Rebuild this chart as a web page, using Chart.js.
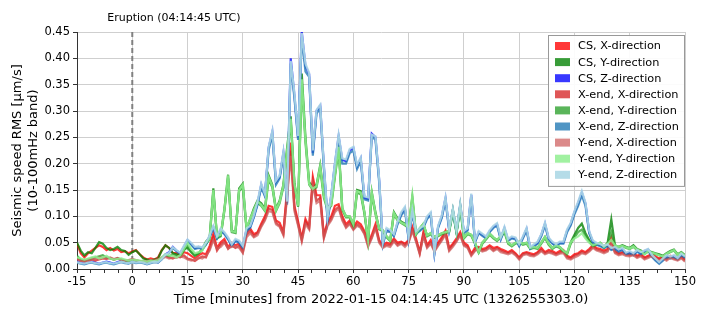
<!DOCTYPE html>
<html>
<head>
<meta charset="utf-8">
<script src="https://cdn.jsdelivr.net/npm/chart.js"></script>
<style>
  html, body { margin: 0; padding: 0; background: #fff; }
  #wrap { width: 708px; height: 315px; }
</style>
</head>
<body>
<div id="wrap"><canvas id="seisChart" width="708" height="315"></canvas></div>
<script>
// --- data (one value per minute, -15 .. 150 min after eruption) ---
const minutes = Array.from({ length: 166 }, (_, i) => i - 15);
const xTicks = [-15, 0, 15, 30, 45, 60, 75, 90, 105, 120, 135, 150];
const yTicks = [0, 0.05, 0.1, 0.15, 0.2, 0.25, 0.3, 0.35, 0.4, 0.45];
const eruptionLabel = 'Eruption (04:14:45 UTC)';

const csX = [0.048,0.030,0.022,0.030,0.035,0.040,0.045,0.042,0.036,0.040,0.035,0.038,0.032,0.034,0.030,0.033,
  0.036,0.028,0.022,0.018,0.020,0.018,0.022,0.036,0.045,0.040,0.030,0.030,0.026,0.032,0.030,
  0.025,0.020,0.026,0.030,0.028,0.044,0.067,0.040,0.051,0.057,0.042,0.050,0.045,0.048,0.036,
  0.070,0.077,0.066,0.070,0.086,0.100,0.120,0.118,0.092,0.088,0.070,0.150,0.240,0.120,0.090,
  0.058,0.095,0.080,0.175,0.140,0.140,0.064,0.090,0.100,0.120,0.123,0.100,0.085,0.092,0.080,
  0.090,0.085,0.072,0.048,0.065,0.085,0.055,0.045,0.050,0.048,0.058,0.050,0.052,0.048,0.055,
  0.080,0.058,0.032,0.070,0.045,0.055,0.038,0.050,0.060,0.073,0.040,0.048,0.058,0.070,0.050,
  0.045,0.029,0.040,0.042,0.038,0.040,0.045,0.040,0.042,0.038,0.035,0.032,0.036,0.030,0.022,
  0.030,0.032,0.030,0.028,0.032,0.040,0.032,0.036,0.034,0.030,0.034,0.036,0.025,0.022,0.028,
  0.030,0.035,0.032,0.038,0.045,0.040,0.038,0.035,0.038,0.060,0.035,0.030,0.032,0.030,0.028,
  0.030,0.025,0.028,0.022,0.025,0.028,0.024,0.020,0.024,0.020,0.025,0.022,0.020,0.024,0.018];
const csY = [0.050,0.035,0.026,0.032,0.030,0.040,0.051,0.048,0.040,0.036,0.038,0.042,0.036,0.034,0.027,0.032,
  0.035,0.028,0.020,0.018,0.016,0.018,0.020,0.035,0.045,0.040,0.030,0.028,0.026,0.038,0.040,
  0.032,0.025,0.030,0.038,0.052,0.060,0.153,0.060,0.064,0.114,0.179,0.073,0.070,0.153,0.162,
  0.077,0.095,0.115,0.130,0.125,0.114,0.178,0.160,0.114,0.130,0.160,0.229,0.290,0.164,0.120,
  0.371,0.250,0.165,0.155,0.160,0.197,0.140,0.115,0.125,0.180,0.235,0.115,0.100,0.100,0.085,
  0.150,0.148,0.108,0.055,0.146,0.108,0.077,0.074,0.062,0.055,0.108,0.096,0.090,0.086,0.080,
  0.137,0.067,0.077,0.086,0.064,0.068,0.061,0.064,0.068,0.070,0.072,0.112,0.070,0.120,0.060,
  0.068,0.065,0.050,0.032,0.050,0.058,0.067,0.060,0.055,0.062,0.073,0.050,0.045,0.050,0.052,
  0.048,0.050,0.040,0.042,0.040,0.050,0.061,0.048,0.040,0.045,0.042,0.035,0.030,0.051,0.065,
  0.078,0.086,0.068,0.055,0.045,0.048,0.050,0.042,0.050,0.094,0.045,0.042,0.045,0.042,0.040,
  0.045,0.038,0.035,0.030,0.035,0.032,0.030,0.028,0.025,0.030,0.034,0.037,0.028,0.032,0.026];
const csZ = [0.015,0.012,0.010,0.012,0.014,0.012,0.010,0.012,0.014,0.012,0.010,0.013,0.015,0.012,0.011,0.015,
  0.012,0.014,0.012,0.010,0.012,0.015,0.013,0.020,0.028,0.032,0.042,0.035,0.030,0.042,0.055,
  0.048,0.040,0.042,0.040,0.048,0.062,0.080,0.060,0.075,0.068,0.058,0.045,0.055,0.052,0.042,
  0.075,0.080,0.100,0.125,0.160,0.140,0.230,0.260,0.165,0.175,0.220,0.125,0.400,0.330,0.250,
  0.450,0.385,0.370,0.220,0.300,0.310,0.195,0.095,0.140,0.200,0.252,0.207,0.205,0.225,0.230,
  0.195,0.210,0.135,0.133,0.257,0.250,0.170,0.048,0.075,0.072,0.064,0.088,0.105,0.115,0.058,
  0.110,0.070,0.075,0.080,0.098,0.105,0.030,0.080,0.100,0.134,0.075,0.112,0.072,0.122,0.070,
  0.075,0.141,0.052,0.070,0.065,0.060,0.072,0.080,0.085,0.058,0.078,0.055,0.060,0.058,0.045,
  0.060,0.076,0.040,0.045,0.050,0.065,0.086,0.058,0.050,0.045,0.050,0.050,0.073,0.086,0.108,
  0.125,0.145,0.124,0.070,0.052,0.048,0.045,0.042,0.045,0.038,0.040,0.035,0.038,0.030,0.032,
  0.028,0.035,0.030,0.034,0.037,0.025,0.018,0.012,0.018,0.025,0.022,0.025,0.020,0.028,0.023];

const xendX = [0.020,0.016,0.014,0.015,0.018,0.016,0.018,0.020,0.019,0.021,0.018,0.020,0.017,0.015,0.016,0.018,
  0.016,0.014,0.015,0.013,0.016,0.015,0.018,0.022,0.025,0.022,0.020,0.024,0.022,0.026,0.020,
  0.018,0.015,0.020,0.024,0.022,0.038,0.060,0.035,0.046,0.052,0.038,0.045,0.040,0.044,0.032,
  0.065,0.072,0.062,0.068,0.082,0.095,0.115,0.112,0.088,0.082,0.066,0.140,0.225,0.115,0.085,
  0.055,0.090,0.078,0.165,0.130,0.135,0.060,0.085,0.095,0.112,0.118,0.095,0.080,0.088,0.076,
  0.085,0.080,0.068,0.045,0.060,0.080,0.052,0.042,0.046,0.045,0.054,0.046,0.050,0.045,0.052,
  0.075,0.054,0.030,0.065,0.042,0.050,0.035,0.046,0.056,0.068,0.036,0.045,0.054,0.066,0.046,
  0.042,0.027,0.036,0.040,0.035,0.037,0.042,0.036,0.040,0.035,0.032,0.030,0.033,0.028,0.020,
  0.028,0.030,0.027,0.026,0.030,0.036,0.030,0.033,0.031,0.028,0.031,0.033,0.022,0.020,0.025,
  0.028,0.032,0.030,0.035,0.042,0.037,0.035,0.032,0.035,0.052,0.032,0.028,0.030,0.027,0.026,
  0.028,0.023,0.026,0.020,0.023,0.026,0.022,0.018,0.022,0.018,0.023,0.020,0.018,0.022,0.016];
const xendY = [0.025,0.018,0.016,0.018,0.020,0.022,0.024,0.026,0.022,0.020,0.018,0.020,0.018,0.016,0.015,0.017,
  0.016,0.015,0.014,0.013,0.015,0.014,0.016,0.020,0.026,0.024,0.028,0.025,0.024,0.035,0.045,
  0.035,0.028,0.030,0.036,0.048,0.056,0.148,0.058,0.062,0.110,0.172,0.070,0.068,0.148,0.155,
  0.075,0.092,0.110,0.125,0.120,0.110,0.170,0.155,0.110,0.125,0.155,0.220,0.280,0.160,0.118,
  0.355,0.240,0.160,0.150,0.155,0.190,0.135,0.112,0.120,0.175,0.228,0.112,0.098,0.098,0.082,
  0.145,0.142,0.105,0.053,0.140,0.104,0.075,0.072,0.060,0.053,0.104,0.092,0.087,0.083,0.078,
  0.132,0.065,0.075,0.083,0.062,0.066,0.059,0.062,0.066,0.068,0.070,0.108,0.068,0.116,0.058,
  0.066,0.063,0.048,0.031,0.048,0.056,0.065,0.058,0.053,0.060,0.070,0.048,0.043,0.048,0.050,
  0.046,0.048,0.038,0.040,0.038,0.048,0.059,0.046,0.038,0.043,0.040,0.033,0.028,0.048,0.060,
  0.070,0.075,0.062,0.052,0.043,0.046,0.048,0.040,0.047,0.070,0.043,0.040,0.043,0.040,0.038,
  0.042,0.036,0.033,0.028,0.033,0.030,0.028,0.026,0.023,0.028,0.032,0.035,0.026,0.030,0.024];
const xendZ = [0.012,0.010,0.009,0.011,0.012,0.010,0.009,0.011,0.012,0.010,0.009,0.011,0.013,0.011,0.010,0.013,
  0.011,0.012,0.011,0.009,0.011,0.013,0.012,0.018,0.026,0.030,0.040,0.034,0.029,0.040,0.052,
  0.046,0.038,0.040,0.038,0.046,0.060,0.078,0.058,0.072,0.066,0.056,0.044,0.053,0.050,0.040,
  0.072,0.078,0.098,0.122,0.155,0.138,0.225,0.255,0.160,0.172,0.215,0.122,0.390,0.325,0.245,
  0.440,0.375,0.365,0.215,0.295,0.305,0.190,0.092,0.136,0.195,0.248,0.200,0.200,0.220,0.225,
  0.190,0.205,0.132,0.130,0.252,0.245,0.165,0.046,0.072,0.070,0.062,0.085,0.102,0.112,0.056,
  0.106,0.068,0.072,0.078,0.095,0.102,0.029,0.078,0.097,0.130,0.073,0.108,0.070,0.118,0.068,
  0.073,0.137,0.050,0.068,0.063,0.058,0.070,0.078,0.082,0.056,0.075,0.053,0.058,0.056,0.043,
  0.058,0.073,0.038,0.043,0.048,0.062,0.083,0.056,0.048,0.043,0.048,0.048,0.070,0.083,0.104,
  0.120,0.140,0.120,0.068,0.050,0.046,0.043,0.040,0.043,0.036,0.038,0.033,0.036,0.028,0.030,
  0.026,0.033,0.028,0.032,0.035,0.023,0.016,0.010,0.016,0.023,0.020,0.023,0.018,0.026,0.021];

const yendX = [0.018,0.015,0.016,0.018,0.020,0.019,0.022,0.021,0.020,0.022,0.019,0.021,0.018,0.016,0.017,0.019,
  0.017,0.015,0.014,0.015,0.017,0.016,0.019,0.020,0.023,0.020,0.022,0.021,0.024,0.022,0.018,
  0.016,0.018,0.022,0.020,0.025,0.035,0.055,0.038,0.042,0.050,0.040,0.042,0.043,0.040,0.030,
  0.060,0.068,0.060,0.064,0.080,0.092,0.110,0.108,0.085,0.080,0.064,0.135,0.215,0.110,0.082,
  0.052,0.085,0.075,0.160,0.125,0.130,0.058,0.082,0.092,0.108,0.115,0.092,0.078,0.085,0.074,
  0.082,0.078,0.066,0.042,0.058,0.078,0.050,0.040,0.044,0.042,0.052,0.044,0.048,0.042,0.050,
  0.072,0.052,0.028,0.062,0.040,0.048,0.033,0.044,0.054,0.065,0.034,0.042,0.052,0.064,0.044,
  0.040,0.025,0.034,0.038,0.033,0.035,0.040,0.034,0.038,0.032,0.030,0.028,0.031,0.026,0.018,
  0.026,0.028,0.025,0.024,0.028,0.034,0.028,0.031,0.029,0.026,0.029,0.030,0.020,0.018,0.022,
  0.025,0.030,0.028,0.033,0.040,0.035,0.033,0.030,0.033,0.048,0.030,0.026,0.028,0.025,0.024,
  0.026,0.021,0.024,0.018,0.021,0.024,0.020,0.016,0.020,0.016,0.021,0.018,0.016,0.020,0.014];
const yendY = [0.022,0.020,0.018,0.020,0.022,0.024,0.020,0.022,0.025,0.020,0.018,0.019,0.020,0.018,0.016,0.018,
  0.017,0.016,0.015,0.014,0.016,0.015,0.017,0.022,0.028,0.026,0.025,0.022,0.026,0.038,0.050,
  0.038,0.030,0.032,0.035,0.050,0.058,0.150,0.062,0.065,0.112,0.178,0.072,0.070,0.150,0.160,
  0.078,0.095,0.112,0.128,0.122,0.112,0.175,0.158,0.112,0.128,0.158,0.225,0.285,0.162,0.120,
  0.360,0.245,0.162,0.152,0.158,0.195,0.138,0.115,0.122,0.178,0.232,0.115,0.100,0.100,0.085,
  0.148,0.145,0.108,0.055,0.145,0.106,0.077,0.074,0.062,0.055,0.106,0.094,0.088,0.085,0.080,
  0.140,0.067,0.077,0.086,0.064,0.068,0.061,0.064,0.068,0.070,0.072,0.112,0.070,0.120,0.060,
  0.068,0.065,0.050,0.032,0.050,0.058,0.067,0.060,0.055,0.062,0.073,0.050,0.045,0.050,0.052,
  0.048,0.050,0.040,0.042,0.040,0.050,0.061,0.048,0.040,0.045,0.042,0.035,0.030,0.051,0.058,
  0.062,0.068,0.058,0.050,0.045,0.048,0.050,0.042,0.048,0.055,0.045,0.042,0.044,0.041,0.039,
  0.043,0.037,0.034,0.028,0.034,0.031,0.029,0.026,0.024,0.029,0.033,0.036,0.027,0.031,0.025];
const yendZ = [0.013,0.011,0.010,0.012,0.013,0.011,0.010,0.012,0.013,0.011,0.010,0.012,0.014,0.012,0.011,0.014,
  0.012,0.013,0.012,0.010,0.012,0.014,0.013,0.019,0.027,0.031,0.041,0.036,0.031,0.044,0.056,
  0.050,0.042,0.043,0.041,0.050,0.064,0.082,0.062,0.077,0.070,0.060,0.047,0.057,0.054,0.044,
  0.077,0.082,0.102,0.128,0.162,0.142,0.232,0.262,0.168,0.178,0.222,0.128,0.395,0.335,0.252,
  0.448,0.390,0.372,0.225,0.302,0.312,0.198,0.098,0.142,0.202,0.255,0.210,0.208,0.228,0.232,
  0.198,0.212,0.138,0.136,0.255,0.252,0.172,0.050,0.078,0.074,0.066,0.090,0.108,0.118,0.060,
  0.112,0.072,0.077,0.082,0.100,0.108,0.032,0.082,0.102,0.136,0.077,0.114,0.074,0.124,0.072,
  0.077,0.143,0.054,0.072,0.067,0.062,0.074,0.082,0.087,0.060,0.080,0.057,0.062,0.060,0.047,
  0.062,0.078,0.042,0.047,0.052,0.066,0.088,0.060,0.052,0.047,0.052,0.052,0.075,0.088,0.110,
  0.128,0.148,0.126,0.072,0.054,0.050,0.047,0.044,0.047,0.040,0.042,0.037,0.040,0.031,0.034,
  0.030,0.036,0.032,0.035,0.038,0.027,0.020,0.013,0.020,0.026,0.024,0.026,0.021,0.029,0.024];

const seriesNames = ['CS, X-direction', 'CS, Y-direction', 'CS, Z-direction',
  'X-end, X-direction', 'X-end, Y-direction', 'X-end, Z-direction',
  'Y-end, X-direction', 'Y-end, Y-direction', 'Y-end, Z-direction'];
const seriesValues = [csX, csY, csZ, xendX, xendY, xendZ, yendX, yendY, yendZ];
const seriesColors = ['rgba(255,0,0,0.78)', 'rgba(0,128,0,0.78)', 'rgba(0,0,255,0.78)',
  'rgba(214,39,40,0.78)', 'rgba(44,160,44,0.78)', 'rgba(31,119,180,0.78)',
  'rgba(205,92,92,0.72)', 'rgba(144,238,144,0.85)', 'rgba(173,216,230,0.9)'];

Chart.defaults.font.family = "'DejaVu Sans', sans-serif";
Chart.defaults.color = '#000';

// --- plugins: eruption marker + legend box inside the plot ---
const eruptionMarker = {
    id: 'eruptionMarker',
    beforeDatasetsDraw(chart) {
        const { ctx, chartArea, scales } = chart;
        const x = scales.x.getPixelForValue(0);
        ctx.save();
        ctx.strokeStyle = '#808080';
        ctx.lineWidth = 2;
        ctx.setLineDash([5, 3]);
        ctx.beginPath();
        ctx.moveTo(x, chartArea.top);
        ctx.lineTo(x, chartArea.bottom);
        ctx.stroke();
        ctx.restore();
    },
    afterDraw(chart) {
        const { ctx, chartArea, scales } = chart;
        const x = scales.x.getPixelForValue(0);
        ctx.save();
        ctx.font = "11px 'DejaVu Sans'";
        ctx.fillStyle = '#000';
        ctx.textAlign = 'left';
        ctx.textBaseline = 'middle';
        ctx.fillText(eruptionLabel, x - 25, chartArea.top - 14);
        ctx.restore();
    }
};

const boxLegend = {
    id: 'boxLegend',
    afterDraw(chart) {
        const { ctx, chartArea } = chart;
        const w = 136, rowH = 16.1;
        const x0 = chartArea.right - w - 1, y0 = chartArea.top + 3;
        const h = rowH * seriesNames.length + 6;
        ctx.save();
        ctx.fillStyle = 'rgba(255,255,255,0.9)';
        ctx.strokeStyle = '#999';
        ctx.lineWidth = 1;
        ctx.fillRect(x0, y0, w, h);
        ctx.strokeRect(x0 + 0.5, y0 + 0.5, w, h);
        ctx.font = "11.3px 'DejaVu Sans'";
        ctx.textBaseline = 'middle';
        chart.data.datasets.forEach((ds, i) => {
            const cy = y0 + 11 + i * rowH;
            ctx.fillStyle = ds.borderColor;
            ctx.fillRect(x0 + 7, cy - 4, 15, 8);
            ctx.fillStyle = '#000';
            ctx.fillText(ds.label, x0 + 30, cy + 0.5);
        });
        ctx.restore();
    }
};

const datasets = seriesNames.map((name, i) => ({
    label: name,
    data: minutes.map((m, j) => ({ x: m, y: seriesValues[i][j] })),
    borderColor: seriesColors[i],
    backgroundColor: seriesColors[i],
    borderWidth: 2.2,
    pointRadius: 0,
    tension: 0,
    order: seriesNames.length - i
}));

new Chart(document.getElementById('seisChart'), {
    type: 'line',
    data: { datasets },
    options: {
        responsive: false,
        animation: false,
        layout: { padding: { left: 10, top: 32, right: 23, bottom: 0 } },
        plugins: { legend: { display: false }, tooltip: { enabled: false } },
        scales: {
            x: {
                type: 'linear',
                min: -15,
                max: 150,
                afterFit: s => { s.height = 46; },
                ticks: {
                    stepSize: 3.75,
                    autoSkip: false,
                    maxRotation: 0,
                    padding: 2,
                    font: { size: 11.5 },
                    callback: v => xTicks.includes(v) ? String(v) : ''
                },
                grid: {
                    color: c => xTicks.includes(c.tick && c.tick.value) ? '#cfcfcf' : 'rgba(0,0,0,0)',
                    tickColor: '#333',
                    tickLength: 4
                },
                border: { color: '#333' },
                title: {
                    display: true,
                    text: 'Time [minutes] from 2022-01-15 04:14:45 UTC (1326255303.0)',
                    font: { size: 13 },
                    padding: { top: 0, bottom: 8 }
                }
            },
            y: {
                min: 0,
                max: 0.45,
                afterFit: s => { s.width = 67; },
                afterBuildTicks: s => { s.ticks = yTicks.map(v => ({ value: v })); },
                ticks: {
                    padding: 3,
                    font: { size: 11.5 },
                    callback: v => v.toFixed(2)
                },
                grid: { color: '#cfcfcf', tickColor: '#333', tickLength: 4 },
                border: { color: '#333' },
                title: {
                    display: true,
                    text: ['Seismic speed RMS [\u03bcm/s]', '(10-100mHz band)'],
                    font: { size: 13 },
                    padding: { top: 0, bottom: 2 }
                }
            }
        }
    },
    plugins: [eruptionMarker, boxLegend]
});
</script>
</body>
</html>
